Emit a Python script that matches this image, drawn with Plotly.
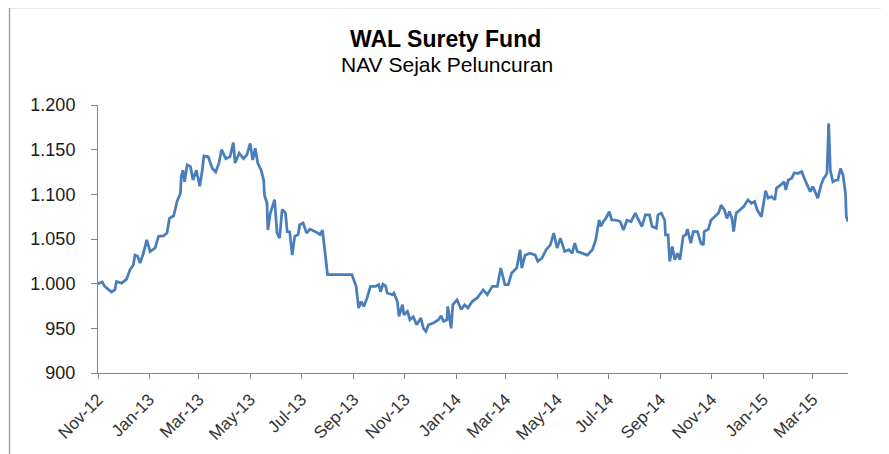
import plotly.graph_objects as go

dates = [
    "2012-11-01", "2012-11-06", "2012-11-09", "2012-11-17", "2012-11-21", "2012-11-23", "2012-11-29",
    "2012-12-05", "2012-12-09", "2012-12-13", "2012-12-15", "2012-12-18", "2012-12-21", "2012-12-25", "2012-12-29",
    "2013-01-02", "2013-01-08", "2013-01-12", "2013-01-18", "2013-01-22", "2013-01-25", "2013-01-30",
    "2013-02-03", "2013-02-07", "2013-02-08", "2013-02-10", "2013-02-12", "2013-02-15", "2013-02-19", "2013-02-22", "2013-02-26",
    "2013-03-02", "2013-03-05", "2013-03-07", "2013-03-12", "2013-03-17", "2013-03-21", "2013-03-25", "2013-03-28",
    "2013-04-02", "2013-04-07", "2013-04-11", "2013-04-13", "2013-04-18", "2013-04-23", "2013-04-27",
    "2013-05-01", "2013-05-04", "2013-05-07", "2013-05-10", "2013-05-14", "2013-05-17", "2013-05-18", "2013-05-21",
    "2013-05-22", "2013-05-25", "2013-05-30",
    "2013-06-02", "2013-06-05", "2013-06-08", "2013-06-12", "2013-06-14", "2013-06-17", "2013-06-20", "2013-06-23",
    "2013-06-27", "2013-06-29",
    "2013-07-03", "2013-07-07", "2013-07-11", "2013-07-17", "2013-07-23", "2013-07-26", "2013-07-28",
    "2013-08-01", "2013-08-30",
    "2013-09-02", "2013-09-04", "2013-09-07", "2013-09-10", "2013-09-13", "2013-09-17", "2013-09-21", "2013-09-27",
    "2013-10-01", "2013-10-03", "2013-10-06", "2013-10-09", "2013-10-11", "2013-10-17", "2013-10-19", "2013-10-23",
    "2013-10-25", "2013-10-29", "2013-10-31",
    "2013-11-04", "2013-11-07", "2013-11-11", "2013-11-15", "2013-11-20", "2013-11-23", "2013-11-26", "2013-11-29",
    "2013-12-05", "2013-12-11", "2013-12-14", "2013-12-17", "2013-12-21", "2013-12-22", "2013-12-26", "2013-12-28",
    "2014-01-02", "2014-01-07", "2014-01-11", "2014-01-15", "2014-01-20", "2014-01-26",
    "2014-02-02", "2014-02-07", "2014-02-13", "2014-02-19", "2014-02-23", "2014-02-28",
    "2014-03-04", "2014-03-08", "2014-03-14", "2014-03-18", "2014-03-20", "2014-03-24", "2014-03-30",
    "2014-04-05", "2014-04-08", "2014-04-13", "2014-04-18", "2014-04-23", "2014-04-27",
    "2014-05-01", "2014-05-05", "2014-05-10", "2014-05-15", "2014-05-19", "2014-05-22", "2014-05-25", "2014-05-31",
    "2014-06-06", "2014-06-12", "2014-06-16", "2014-06-20", "2014-06-22", "2014-06-25", "2014-06-28",
    "2014-07-02", "2014-07-05", "2014-07-11", "2014-07-15", "2014-07-19", "2014-07-23", "2014-07-28",
    "2014-08-02", "2014-08-05", "2014-08-10", "2014-08-14", "2014-08-19", "2014-08-22", "2014-08-27", "2014-08-29",
    "2014-09-02", "2014-09-06", "2014-09-07", "2014-09-10", "2014-09-12", "2014-09-15", "2014-09-18", "2014-09-21",
    "2014-09-24", "2014-09-28",
    "2014-10-01", "2014-10-03", "2014-10-07", "2014-10-10", "2014-10-15", "2014-10-19", "2014-10-22", "2014-10-23",
    "2014-10-28", "2014-10-31",
    "2014-11-05", "2014-11-09", "2014-11-12", "2014-11-16", "2014-11-19", "2014-11-22", "2014-11-25", "2014-11-27",
    "2014-11-30",
    "2014-12-04", "2014-12-09", "2014-12-14", "2014-12-18", "2014-12-22", "2014-12-25", "2014-12-30",
    "2015-01-02", "2015-01-04", "2015-01-07", "2015-01-11", "2015-01-15", "2015-01-17", "2015-01-22", "2015-01-26",
    "2015-01-28", "2015-01-31",
    "2015-02-04", "2015-02-07", "2015-02-12", "2015-02-16", "2015-02-19", "2015-02-22", "2015-02-26",
    "2015-03-01", "2015-03-03", "2015-03-07", "2015-03-11", "2015-03-14", "2015-03-16", "2015-03-18", "2015-03-20",
    "2015-03-22", "2015-03-25", "2015-03-28", "2015-03-31",
    "2015-04-03", "2015-04-06", "2015-04-09", "2015-04-10", "2015-04-12",
]

nav = [
    1000, 1002, 997, 990.6, 993, 1002.5, 1000.6,
    1005, 1015.5, 1021, 1032, 1031, 1023, 1034, 1049,
    1036, 1040, 1053, 1053.5, 1056.6, 1073, 1076,
    1092, 1101, 1120, 1127, 1114, 1133, 1131, 1116, 1127,
    1109, 1127, 1143, 1142, 1129, 1125, 1135.5, 1150,
    1140, 1142, 1158, 1135, 1146, 1140, 1144,
    1157, 1138.5, 1151.6, 1135, 1127, 1116, 1099, 1090,
    1060, 1079, 1094,
    1056.6, 1051, 1083, 1079, 1058.4, 1058, 1032, 1053,
    1055, 1066,
    1068, 1056.6, 1061, 1058.5, 1055, 1060, 1041.6,
    1010, 1010,
    1002.5, 997, 972.7, 980, 974.5, 984, 997, 997,
    998.8, 991, 999.5, 997.6, 989.5, 987.6, 989.5, 980,
    963.3, 976.4, 965,
    969, 959.6, 963, 954, 961.5, 950, 946.6, 954,
    956, 959.6, 964, 957.7, 959.6, 974.5, 950, 976.4,
    982, 971, 976.4, 972.7, 980, 984,
    993, 987.6, 997, 997, 1017.5, 998.8,
    998.8, 1012, 1017.5, 1038, 1017.5, 1032, 1034,
    1032, 1025, 1028.6, 1038, 1043.5, 1056.6,
    1040, 1051, 1036, 1038, 1034, 1045.4, 1036, 1034,
    1032, 1038, 1049, 1071.4, 1064, 1069.6, 1073,
    1080.7, 1071.4, 1071, 1069.6, 1060, 1071, 1069.6,
    1079, 1073, 1064, 1077, 1077, 1064, 1062, 1077,
    1079, 1071, 1054.7, 1054.7, 1025, 1041.6, 1026.7, 1034,
    1026.7, 1053,
    1054.7, 1061, 1045.4, 1058.4, 1058.4, 1045.4, 1043.5, 1058.4,
    1061, 1071,
    1075, 1079, 1088, 1082.6, 1073, 1080.7, 1073, 1058.4,
    1079,
    1082.6, 1086.3, 1093.8, 1090, 1092, 1082.6, 1075,
    1093.8, 1104, 1095.7, 1097.5, 1093.8, 1107, 1110.6, 1114,
    1105, 1116,
    1118, 1124, 1123.6, 1125.5, 1118, 1110.6, 1103,
    1108.7, 1105, 1095.7, 1110.6, 1118, 1120, 1123.6, 1179.5,
    1127, 1114, 1115.6, 1116,
    1129, 1122, 1101, 1075, 1069.6,
]

month_ticks = [
    "2012-11-01", "2013-01-01", "2013-03-01", "2013-05-01", "2013-07-01", "2013-09-01", "2013-11-01",
    "2014-01-01", "2014-03-01", "2014-05-01", "2014-07-01", "2014-09-01", "2014-11-01",
    "2015-01-01", "2015-03-01",
]
month_labels = [
    "Nov-12", "Jan-13", "Mar-13", "May-13", "Jul-13", "Sep-13", "Nov-13",
    "Jan-14", "Mar-14", "May-14", "Jul-14", "Sep-14", "Nov-14",
    "Jan-15", "Mar-15",
]
y_ticks = [900, 950, 1000, 1050, 1100, 1150, 1200]
y_labels = ["900", "950", "1.000", "1.050", "1.100", "1.150", "1.200"]

title = "WAL Surety Fund"
subtitle = "NAV Sejak Peluncuran"

FONT = "Liberation Sans, Arial, sans-serif"
AXIS = "#868686"

fig = go.Figure()
fig.add_trace(go.Scatter(
    x=dates, y=nav, mode="lines",
    line=dict(color="#4a7ebb", width=2.75),
    hoverinfo="x+y", showlegend=False,
))

# the page body adds an 8px offset, so the figure is laid out 8px up/left
OFF = 8
W, H = 889, 454
ml, mt = 98 - OFF, 105 - OFF
pw, ph = 750, 268
mr, mb = W - ml - pw, H - mt - ph


def px_x(p):
    return (p - OFF - ml) / pw


def px_y(p):
    return (mt + ph - (p - OFF)) / ph


fig.update_layout(
    width=W, height=H,
    margin=dict(l=ml, r=mr, t=mt, b=mb, pad=0),
    paper_bgcolor="white", plot_bgcolor="white",
    font=dict(family=FONT, color="#262626"),
    xaxis=dict(
        type="date",
        range=["2012-11-01", "2015-04-12"],
        tickvals=month_ticks, ticktext=month_labels,
        tickangle=-45,
        tickfont=dict(size=17, color="#333333"),
        ticks="outside", ticklen=5, tickcolor=AXIS, tickwidth=1,
        ticklabelstandoff=4,
        showline=True, linecolor=AXIS, linewidth=1,
        showgrid=False, zeroline=False,
    ),
    yaxis=dict(
        range=[900, 1200],
        tickvals=y_ticks, ticktext=y_labels,
        tickfont=dict(size=18, color="#1a1a1a"),
        ticks="outside", ticklen=6, tickcolor=AXIS, tickwidth=1,
        ticklabelstandoff=12,
        showline=True, linecolor=AXIS, linewidth=1,
        showgrid=False, zeroline=False,
    ),
    annotations=[
        dict(text="<b>" + title + "</b>", x=px_x(445.5), y=px_y(38.5),
             xref="paper", yref="paper", xanchor="center", yanchor="middle",
             showarrow=False, font=dict(size=23, color="#000000", family=FONT)),
        dict(text=subtitle, x=px_x(447), y=px_y(64.5),
             xref="paper", yref="paper", xanchor="center", yanchor="middle",
             showarrow=False, font=dict(size=21, color="#000000", family=FONT)),
    ],
    shapes=[
        dict(type="rect", xref="paper", yref="paper",
             x0=px_x(9.5), x1=px_x(885.5), y0=px_y(7.5), y1=px_y(480),
             line=dict(color="#a6a6a6", width=1.5), fillcolor="rgba(0,0,0,0)", layer="below"),
    ],
)

fig.write_html("out.html")
